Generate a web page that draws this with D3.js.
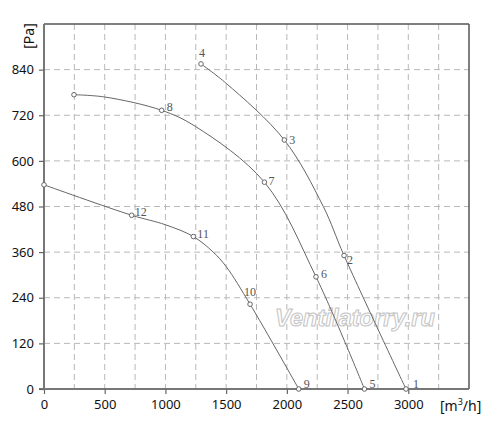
<!DOCTYPE html>
<html><head><meta charset="utf-8">
<script src="https://cdn.jsdelivr.net/npm/d3@7"></script>
<style>body{margin:0;background:#fff}svg{display:block}</style>
</head><body>
<svg id="c" width="500" height="436"></svg>
<script>
const xTicks = [0, 500, 1000, 1500, 2000, 2500, 3000];
const yTicks = [0, 120, 240, 360, 480, 600, 720, 840];
const xGrid = [250, 500, 750, 1000, 1250, 1500, 1750, 2000, 2250, 2500, 2750, 3000, 3250];
const yGrid = [120, 240, 360, 480, 600, 720, 840];

// traced curve shapes
const curveA = [[1293, 855], [1500, 804], [1979, 655], [2300, 480], [2471, 351], [2981, 0]];
const curveB = [[247, 774], [500, 768], [969, 733], [1250, 690], [1815, 544], [2240, 295], [2639, 0]];
const curveC = [[0, 537], [722, 457], [1000, 432], [1230, 401], [1394, 360], [1500, 322], [1697, 223], [2098, 0]];

// marked points and their labels
const pointsA = [[1293, 855], [1979, 655], [2471, 351], [2981, 0]];
const labelsA = ["4", "3", "2", "1"];
const pointsB = [[247, 774], [969, 733], [1815, 544], [2240, 295], [2639, 0]];
const labelsB = ["", "8", "7", "6", "5"];
const pointsC = [[0, 537], [722, 457], [1230, 401], [1697, 223], [2098, 0]];
const labelsC = ["", "12", "11", "10", "9"];

const svg = d3.select("#c");
const L = 44, R = 469, T = 24, B = 389;
const x = d3.scaleLinear().domain([0, 3500]).range([L, R]);
const y = d3.scaleLinear().domain([0, 960]).range([B, T]);

// grid
svg.append("g").selectAll("line").data(xGrid).join("line")
  .attr("x1", d => x(d)).attr("x2", d => x(d)).attr("y1", T).attr("y2", B)
  .attr("stroke", "#b8b8b8").attr("stroke-width", 1).attr("stroke-dasharray", "6,4");
svg.append("g").selectAll("line").data(yGrid).join("line")
  .attr("x1", L).attr("x2", R).attr("y1", d => y(d)).attr("y2", d => y(d))
  .attr("stroke", "#b8b8b8").attr("stroke-width", 1).attr("stroke-dasharray", "6,4");

// watermark
svg.append("text").attr("x", 275).attr("y", 326)
  .attr("font-family", "Liberation Sans, Arial, sans-serif").attr("font-size", 23)
  .attr("font-style", "italic").attr("font-weight", "bold")
  .attr("textLength", 160).attr("lengthAdjust", "spacingAndGlyphs")
  .attr("fill", "#fff").attr("stroke", "#c4c4c4").attr("stroke-width", 1)
  .text("Ventilatorry.ru");

// frame top/right
svg.append("line").attr("x1", L).attr("x2", R).attr("y1", T).attr("y2", T).attr("stroke", "#555").attr("stroke-width", 1.5);
svg.append("line").attr("x1", R).attr("x2", R).attr("y1", T).attr("y2", B).attr("stroke", "#555").attr("stroke-width", 1.5);

// axes
const font = "'Noto Sans', 'DejaVu Sans', sans-serif";
const xAxis = svg.append("g").attr("transform", `translate(0,${B})`)
  .call(d3.axisBottom(x).tickValues(xTicks).tickFormat(d3.format("d")).tickSize(5).tickSizeOuter(0).tickPadding(6));
const yAxis = svg.append("g").attr("transform", `translate(${L},0)`)
  .call(d3.axisLeft(y).tickValues(yTicks).tickFormat(d3.format("d")).tickSize(5).tickSizeOuter(0).tickPadding(5));
[xAxis, yAxis].forEach(a => {
  a.select(".domain").attr("stroke", "#777").attr("stroke-width", 2);
  a.selectAll(".tick line").attr("stroke", "#666").attr("stroke-width", 1.2);
  a.selectAll(".tick text").attr("fill", "#111").attr("font-family", font).attr("font-size", 13);
});
yAxis.select(".domain").attr("d", `M0,${T}V${B + 1}`);
xAxis.select(".domain").attr("d", `M${L - 5},0H${R}`);

// axis labels
svg.append("text").attr("transform", "translate(34,36) rotate(-90)")
  .attr("text-anchor", "middle").attr("font-family", font).attr("font-size", 14).attr("fill", "#111")
  .text("[Pa]");
const ml = svg.append("text").attr("x", 440).attr("y", 411)
  .attr("font-family", font).attr("font-size", 14).attr("fill", "#111");
ml.append("tspan").text("[m");
ml.append("tspan").attr("font-size", 9).attr("dy", -6).text("3");
ml.append("tspan").attr("dy", 6).text("/h]");

// curves
const line = d3.line().x(d => x(d[0])).y(d => y(d[1])).curve(d3.curveCatmullRom.alpha(0.5));
const offsets = {
  "4": [-2, -7], "3": [5, 4], "2": [3, 8], "1": [7, -1],
  "8": [5, 1], "7": [4, 3], "6": [5, 1], "5": [5, -1],
  "12": [3, 1], "11": [4, 1], "10": [-6, -8], "9": [5, -1]
};
[[curveA, pointsA, labelsA], [curveB, pointsB, labelsB], [curveC, pointsC, labelsC]].forEach(([shape, pts, labs]) => {
  svg.append("path").datum(shape).attr("d", line).attr("fill", "none")
    .attr("stroke", "#666").attr("stroke-width", 1);
  const g = svg.append("g");
  g.selectAll("circle").data(pts).join("circle")
    .attr("cx", d => x(d[0])).attr("cy", d => y(d[1])).attr("r", 2.3)
    .attr("fill", "#fff").attr("stroke", "#666").attr("stroke-width", 1);
  g.selectAll("text").data(pts.map((p, i) => [p, labs[i]]).filter(d => d[1])).join("text")
    .attr("x", d => x(d[0][0]) + offsets[d[1]][0])
    .attr("y", d => y(d[0][1]) + offsets[d[1]][1])
    .attr("font-family", "'Liberation Serif', 'Times New Roman', serif").attr("font-size", 12)
    .attr("fill", "#555").text(d => d[1]);
});
</script>
</body></html>
